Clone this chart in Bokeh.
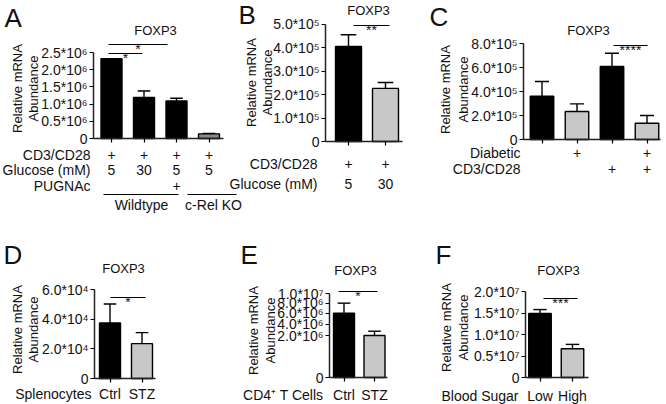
import math
from bokeh.plotting import figure
from bokeh.models import Label, FixedTicker, Range1d, LinearAxis, ColumnDataSource
from bokeh.embed import file_html
from bokeh.resources import INLINE

FONT = "Liberation Sans"
BLACK = "#000000"
GRAY = "#c8c8c8"
DARKGRAY = "#8a8a8a"
INK = "#111111"

# ---------------- data ----------------
# Panel A
a_values = [2.32e6, 1.19e6, 1.09e6, 0.135e6]
a_sem = [0.0, 0.19e6, 0.08e6, 0.015e6]
a_colors = [BLACK, BLACK, BLACK, DARKGRAY]
a_ticks = [0, 0.5e6, 1.0e6, 1.5e6, 2.0e6, 2.5e6]
a_tick_labels = ["0", "0.5*10⁶", "1.0*10⁶", "1.5*10⁶", "2.0*10⁶", "2.5*10⁶"]
a_row_names = ["CD3/CD28", "Glucose (mM)", "PUGNAc"]
a_row_cd3 = ["+", "+", "+", "+"]
a_row_glucose = ["5", "30", "5", "5"]
a_row_pugnac = ["", "", "+", ""]
a_groups = ["Wildtype", "c-Rel KO"]
a_sig = ["*", "*"]

# Panel B
b_values = [4.04e5, 2.26e5]
b_sem = [0.50e5, 0.25e5]
b_colors = [BLACK, GRAY]
b_ticks = [0, 1e5, 2e5, 3e5, 4e5, 5e5]
b_tick_labels = ["0", "1.0*10⁵", "2.0*10⁵", "3.0*10⁵", "4.0*10⁵", "5.0*10⁵"]
b_row_names = ["CD3/CD28", "Glucose (mM)"]
b_row_cd3 = ["+", "+"]
b_row_glucose = ["5", "30"]
b_sig = "**"

# Panel C
c_values = [3.6e5, 2.33e5, 6.08e5, 1.36e5]
c_sem = [1.23e5, 0.64e5, 1.11e5, 0.64e5]
c_colors = [BLACK, GRAY, BLACK, GRAY]
c_ticks = [0, 2e5, 4e5, 6e5, 8e5]
c_tick_labels = ["0", "2.0*10⁵", "4.0*10⁵", "6.0*10⁵", "8.0*10⁵"]
c_row_names = ["Diabetic", "CD3/CD28"]
c_row_diabetic = ["", "+", "", "+"]
c_row_cd3 = ["", "", "+", "+"]
c_sig = "****"

# Panel D
d_categories = ["Ctrl", "STZ"]
d_values = [3.75e4, 2.35e4]
d_sem = [1.27e4, 0.74e4]
d_colors = [BLACK, GRAY]
d_ticks = [0, 2e4, 4e4, 6e4]
d_tick_labels = ["0", "2.0*10⁴", "4.0*10⁴", "6.0*10⁴"]
d_group = "Splenocytes"
d_sig = "*"

# Panel E
e_categories = ["Ctrl", "STZ"]
e_values = [7.65e6, 5.0e6]
e_sem = [1.2e6, 0.51e6]
e_colors = [BLACK, GRAY]
e_ticks = [0, 5.0e6, 6.31e6, 7.62e6, 8.81e6, 1.0e7]
e_tick_labels = ["0", "2.0*10⁶", "4.0*10⁶", "6.0*10⁶", "8.0*10⁶", "1.0*10⁷"]
e_group = "CD4⁺ T Cells"
e_sig = "*"

# Panel F
f_categories = ["Low", "High"]
f_values = [1.49e7, 0.67e7]
f_sem = [0.09e7, 0.10e7]
f_colors = [BLACK, GRAY]
f_ticks = [0, 0.5e7, 1.0e7, 1.5e7, 2.0e7]
f_tick_labels = ["0", "0.5*10⁷", "1.0*10⁷", "1.5*10⁷", "2.0*10⁷"]
f_group = "Blood Sugar"
f_sig = "***"

TITLE = "FOXP3"
YLAB1 = "Relative mRNA"
YLAB2 = "Abundance"

# ---------------- canvas (window pixel coordinates) ----------------
LEFT, RIGHT, TOP, BOTTOM = 0, 666, 0, 404
p = figure(width=RIGHT - LEFT, height=BOTTOM - TOP,
           x_range=Range1d(LEFT, RIGHT), y_range=Range1d(BOTTOM, TOP),
           min_border=0, x_axis_location=None, y_axis_location=None,
           output_backend="svg", toolbar_location=None, tools="")
p.outline_line_color = None
p.background_fill_color = "white"
p.border_fill_color = "white"
p.xgrid.visible = False
p.ygrid.visible = False

extra_x = {}
extra_y = {}

TICK_SIZE = "14px"
ROW_SIZE = 14


def text(t, px, py, size=14, align="center", angle=0.0, baseline="middle"):
    p.add_layout(Label(x=px, y=py, text=t, text_font=FONT, text_font_size=f"{size}px",
                       text_align=align, text_baseline=baseline, angle=angle,
                       text_color=INK))


def hline(x0, x1, py, width=1.2):
    p.segment(x0=[x0], y0=[py], x1=[x1], y1=[py], line_color="black", line_width=width)


class Panel:
    def __init__(self, name, axis_x, axis_end, y0, c1, sp, ytop_px,
                 values, sem, colors, ticks, tick_labels, bar_px):
        self.c1, self.sp = c1, sp
        ytop_val = ticks[-1]
        ppy = (y0 - ytop_px) / ytop_val
        X = lambda px: 1 + (px - c1) / sp
        V = lambda py: (y0 - py) / ppy
        extra_x[name] = Range1d(X(LEFT), X(RIGHT))
        extra_y[name] = Range1d(V(BOTTOM), V(TOP))
        n = len(values)
        xs = [i + 1 for i in range(n)]
        src = ColumnDataSource(dict(x=xs, top=values, color=colors))
        kw = dict(x_range_name=name, y_range_name=name)
        p.vbar(x="x", top="top", width=bar_px / sp, fill_color="color",
               line_color="black", line_width=1.4, source=src, **kw)
        ex = [x for x, s in zip(xs, sem) if s > 0]
        eb = [v for v, s in zip(values, sem) if s > 0]
        et = [v + s for v, s in zip(values, sem) if s > 0]
        cap = 0.6 * bar_px / sp / 2
        p.segment(x0=ex, y0=eb, x1=ex, y1=et, line_color="black", line_width=1.4, **kw)
        p.segment(x0=[x - cap for x in ex], y0=et, x1=[x + cap for x in ex], y1=et,
                  line_color="black", line_width=1.4, **kw)

        yax = LinearAxis(y_range_name=name, fixed_location=axis_x, bounds=(0, ytop_val),
                         ticker=FixedTicker(ticks=ticks),
                         major_label_overrides={t: l for t, l in zip(ticks, tick_labels)})
        yax.axis_line_width = 1.5
        yax.axis_line_color = "#222222"
        yax.major_tick_out = 4
        yax.major_tick_in = 0
        yax.major_tick_line_width = 1.2
        yax.minor_tick_line_color = None
        yax.major_label_text_font = FONT
        yax.major_label_text_font_size = TICK_SIZE
        yax.major_label_text_color = INK
        yax.major_label_standoff = 2
        p.add_layout(yax, "left")

        xax = LinearAxis(x_range_name=name, fixed_location=y0,
                         bounds=(X(axis_x), X(axis_end)),
                         ticker=FixedTicker(ticks=xs),
                         major_label_overrides={x: "" for x in xs})
        xax.axis_line_width = 1.5
        xax.axis_line_color = "#222222"
        xax.major_tick_out = 4
        xax.major_tick_in = 0
        xax.major_tick_line_width = 1.2
        xax.minor_tick_line_color = None
        xax.major_label_standoff = 0
        p.add_layout(xax, "below")

    def bx(self, i):
        return self.c1 + i * self.sp

    def rows(self, names, rows, right_x, ys, size=ROW_SIZE):
        for nm, vals, y in zip(names, rows, ys):
            text(nm, right_x, y, size=size, align="right")
            for i, v in enumerate(vals):
                if v:
                    text(v, self.bx(i), y, size=size)


def sig(x0, x1, py, label):
    hline(x0, x1, py)
    text(label, (x0 + x1) / 2, py + 4, size=14, baseline="alphabetic")


def ylabel(x1, x2, yc):
    text(YLAB1, x1, yc, size=13, angle=math.pi / 2)
    text(YLAB2, x2, yc, size=13, angle=math.pi / 2)


LETTER = 26

# ---------------- Panel A ----------------
A = Panel("A", 93, 223, 138, 111, 32.5, 52, a_values, a_sem, a_colors,
          a_ticks, a_tick_labels, 21)
text("A", 4, 17, size=LETTER, align="left")
text(TITLE, 155, 30, size=13)
ylabel(17, 33, 88)
sig(108, 142, 53, a_sig[0])
sig(108, 167, 44, a_sig[1])
A.rows(a_row_names, [a_row_cd3, a_row_glucose, a_row_pugnac], 90, [154, 169, 185])
hline(103, 178, 194)
hline(187, 236, 194)
text(a_groups[0], 141, 204)
text(a_groups[1], 213, 204)

# ---------------- Panel B ----------------
B = Panel("B", 325, 402, 141, 348, 37, 23.5, b_values, b_sem, b_colors,
          b_ticks, b_tick_labels, 26)
text("B", 238, 14, size=LETTER, align="left")
text(TITLE, 368, 10, size=13)
ylabel(251, 267, 82)
sig(353, 389, 25, b_sig)
B.rows(b_row_names, [b_row_cd3, b_row_glucose], 317, [163, 183])

# ---------------- Panel C ----------------
C = Panel("C", 523, 660, 139, 541.5, 35, 43, c_values, c_sem, c_colors,
          c_ticks, c_tick_labels, 23.5)
text("C", 429, 16, size=LETTER, align="left")
text(TITLE, 588, 30, size=13)
ylabel(445, 463, 89)
sig(613, 647, 45, c_sig)
C.rows(c_row_names, [c_row_diabetic, c_row_cd3], 520, [152, 168])

# ---------------- Panel D ----------------
D = Panel("D", 94, 155, 378, 109.5, 32, 289, d_values, d_sem, d_colors,
          d_ticks, d_tick_labels, 21)
text("D", 3, 254, size=LETTER, align="left")
text(TITLE, 123, 268, size=13)
ylabel(17, 33, 329)
sig(110, 145, 297, d_sig)
D.rows([d_group], [d_categories], 91, [393])

# ---------------- Panel E ----------------
E = Panel("E", 329, 387, 377, 343.5, 30.5, 293, e_values, e_sem, e_colors,
          e_ticks, e_tick_labels, 21)
text("E", 240, 254, size=LETTER, align="left")
text(TITLE, 355, 270, size=13)
ylabel(253, 270, 330)
sig(338, 377, 291, e_sig)
E.rows([e_group], [e_categories], 323, [394])

# ---------------- Panel F ----------------
F = Panel("F", 525, 588, 377, 539.5, 32.5, 291, f_values, f_sem, f_colors,
          f_ticks, f_tick_labels, 22.5)
text("F", 435, 254, size=LETTER, align="left")
text(TITLE, 558, 270, size=13)
ylabel(446, 463, 327)
sig(543, 577, 298, f_sig)
F.rows([f_group], [f_categories], 518, [395])

p.extra_x_ranges = extra_x
p.extra_y_ranges = extra_y

html = file_html(p, INLINE)
with open("out.html", "w") as fh:
    fh.write(html)
